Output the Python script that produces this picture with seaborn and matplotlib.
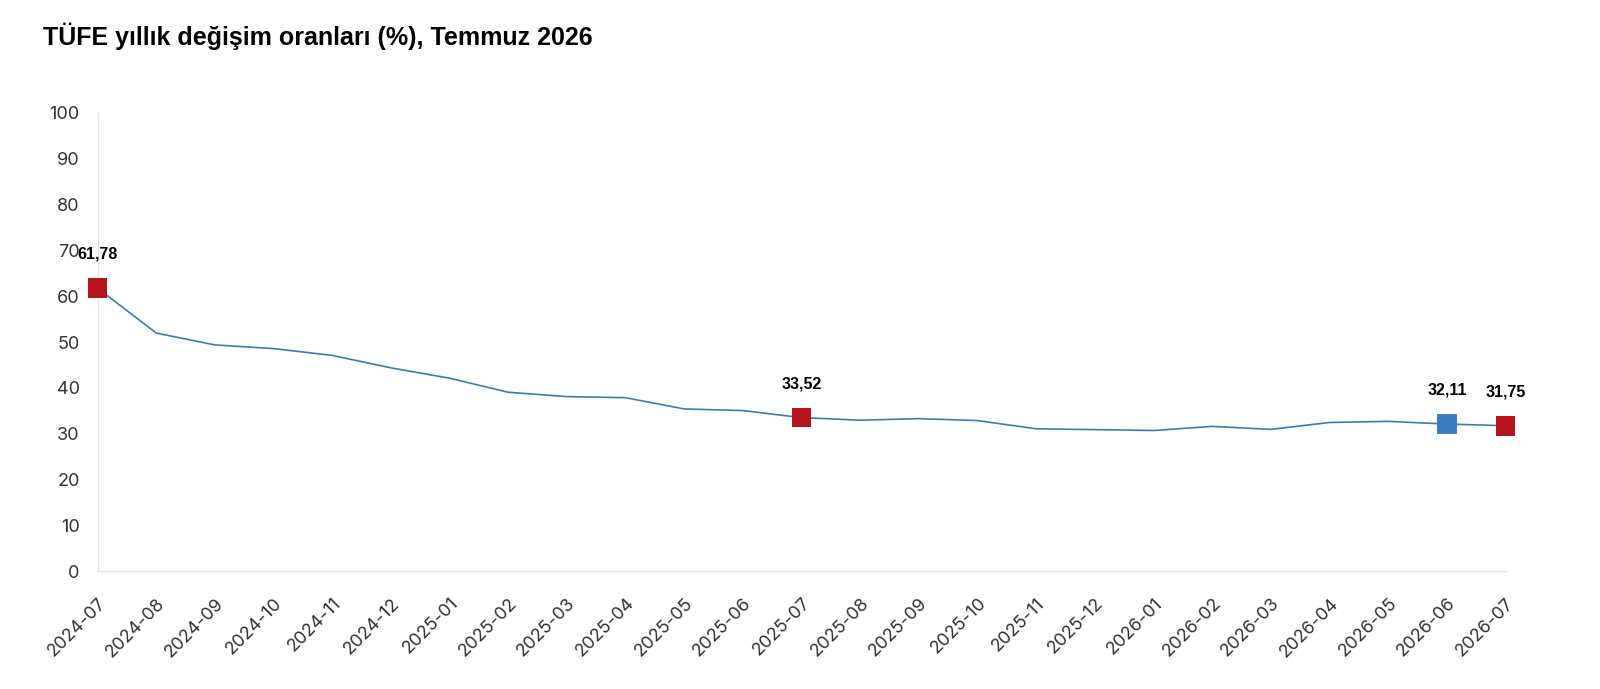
import pandas as pd
import seaborn as sns
import matplotlib.pyplot as plt

# Monthly annual CPI change (%)
months = ["2024-07", "2024-08", "2024-09", "2024-10", "2024-11", "2024-12",
          "2025-01", "2025-02", "2025-03", "2025-04", "2025-05", "2025-06",
          "2025-07", "2025-08", "2025-09", "2025-10", "2025-11", "2025-12",
          "2026-01", "2026-02", "2026-03", "2026-04", "2026-05", "2026-06",
          "2026-07"]
values = [61.78, 51.97, 49.38, 48.58, 47.09, 44.38,
          42.12, 39.05, 38.10, 37.86, 35.41, 35.05,
          33.52, 32.95, 33.29, 32.87, 31.07, 30.90,
          30.70, 31.60, 30.95, 32.45, 32.70, 32.11,
          31.75]

# highlighted points and their colour
red_months = ["2024-07", "2025-07", "2026-07"]
blue_months = ["2026-06"]

df = pd.DataFrame({"month": months, "value": values})
df["pos"] = range(len(df))

sns.set_theme(style="white")
plt.rcParams["font.family"] = ["Inter", "DejaVu Sans"]

fig = plt.figure(figsize=(16, 6.89), dpi=100)
ax = fig.add_axes([0.061, 0.171, 0.880, 0.665])

sns.lineplot(data=df, x="pos", y="value", color="#3b7bb5", linewidth=1.2, ax=ax)

red = df[df["month"].isin(red_months)]
blue = df[df["month"].isin(blue_months)]
sns.scatterplot(data=red, x="pos", y="value", marker="s", s=200, color="#b5141c",
                edgecolor="none", ax=ax, zorder=5, clip_on=False)
sns.scatterplot(data=blue, x="pos", y="value", marker="s", s=200, color="#3a7dc2",
                edgecolor="none", ax=ax, zorder=5, clip_on=False)

for _, row in pd.concat([red, blue]).iterrows():
    ax.annotate(f"{row['value']:.2f}".replace(".", ","), (row["pos"], row["value"]),
                xytext=(0, 19), textcoords="offset points", ha="center", va="bottom",
                fontsize=11.5, fontweight="bold", color="black",
                family=["Liberation Sans", "DejaVu Sans"])

ax.set_xlim(0, len(months) - 1)
ax.set_ylim(0, 100)
ax.set_yticks(range(0, 101, 10))
ax.set_xticks(df["pos"])
ax.set_xticklabels(months, rotation=45, ha="right", rotation_mode="anchor")
ax.tick_params(axis="both", labelsize=13, labelcolor="#333333", length=0)
ax.tick_params(axis="y", pad=13)
ax.tick_params(axis="x", pad=17)
ax.set_xlabel("")
ax.set_ylabel("")

for side in ["top", "right"]:
    ax.spines[side].set_visible(False)
for side in ["left", "bottom"]:
    ax.spines[side].set_color("#e3e3e3")
    ax.spines[side].set_linewidth(1.0)

fig.text(0.027, 0.947, "TÜFE yıllık değişim oranları (%), Temmuz 2026",
         fontsize=18, fontweight="bold", color="black", ha="left", va="center",
         family=["Liberation Sans", "DejaVu Sans"])

plt.savefig("out.png", dpi=100)
